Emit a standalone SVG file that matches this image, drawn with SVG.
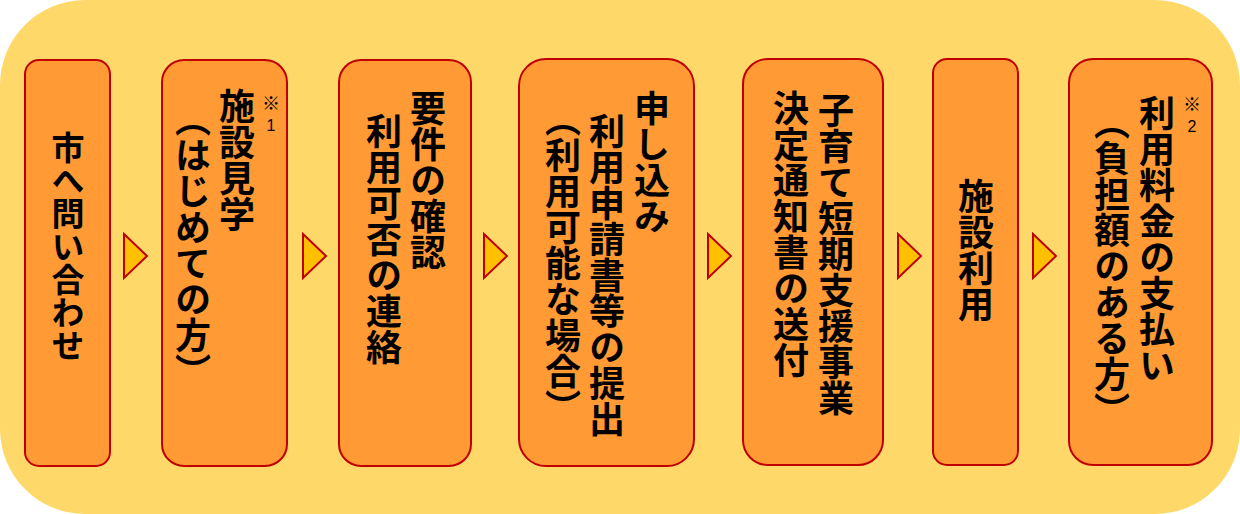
<svg xmlns="http://www.w3.org/2000/svg" width="1240" height="514" viewBox="0 0 1240 514">
<style>
.bg{fill:#FED96A;}
.box{fill:#FF9A35;stroke:#C00000;stroke-width:2;}
.arr{fill:#FFC000;stroke:#C00000;stroke-width:2;stroke-linejoin:miter;}
.t{font-family:"Noto Sans CJK JP","Noto Sans",sans-serif;font-weight:700;font-size:36px;fill:#000;writing-mode:vertical-rl;}
.p{font-feature-settings:"vhal" 1;}
.n{font-family:"Noto Sans CJK JP","Liberation Sans",sans-serif;font-size:18px;fill:#000;text-anchor:middle;}
.d{font-family:"Liberation Sans","Noto Sans",sans-serif;font-size:16px;fill:#000;text-anchor:middle;}
</style>
<rect class="bg" x="0" y="0" width="1240" height="514" rx="85" ry="85"/>
<g id="connectors">
<polygon class="arr" points="124,234 147,256 124,278"/>
<polygon class="arr" points="303,234 326,256 303,278"/>
<polygon class="arr" points="484,234 507,256 484,278"/>
<polygon class="arr" points="708,234 731,256 708,278"/>
<polygon class="arr" points="898,234 921,256 898,278"/>
<polygon class="arr" points="1033,234 1056,256 1033,278"/>
</g>
<g id="n1">
<rect class="box" x="25" y="60" width="85" height="406" rx="14"/>
<text class="t" x="68" y="131" style="font-size:33px">市へ問い合わせ</text>
</g>
<g id="n2">
<rect class="box" x="162" y="60" width="125" height="406" rx="22"/>
<text class="t" x="237" y="88">施設見学</text>
<text class="t" x="193" y="119"><tspan class="p">（</tspan>はじめての方<tspan class="p">）</tspan></text>
<text class="n" x="271" y="110">※</text>
<text class="d" x="271" y="131">1</text>
</g>
<g id="n3">
<rect class="box" x="339" y="60" width="132" height="406" rx="22"/>
<text class="t" x="428" y="90">要件の確認</text>
<text class="t" x="384" y="113">利用可否の連絡</text>
</g>
<g id="n4">
<rect class="box" x="519" y="59" width="175" height="407" rx="27"/>
<text class="t" x="652" y="90">申し込み</text>
<text class="t" x="607" y="113">利用申請書等の提出</text>
<text class="t" x="563" y="119"><tspan class="p">（</tspan>利用可能な場合<tspan class="p">）</tspan></text>
</g>
<g id="n5">
<rect class="box" x="743" y="59" width="140" height="406" rx="25"/>
<text class="t" x="836" y="92">子育て短期支援事業</text>
<text class="t" x="791" y="90">決定通知書の送付</text>
</g>
<g id="n6">
<rect class="box" x="933" y="59" width="85" height="406" rx="14"/>
<text class="t" x="976" y="178">施設利用</text>
</g>
<g id="n7">
<rect class="box" x="1069" y="59" width="143" height="406" rx="24"/>
<text class="t" x="1157" y="95">利用料金の支払い</text>
<text class="t" x="1112" y="122"><tspan class="p">（</tspan>負担額のある方<tspan class="p">）</tspan></text>
<text class="n" x="1192" y="111">※</text>
<text class="d" x="1192" y="132">2</text>
</g>
</svg>
